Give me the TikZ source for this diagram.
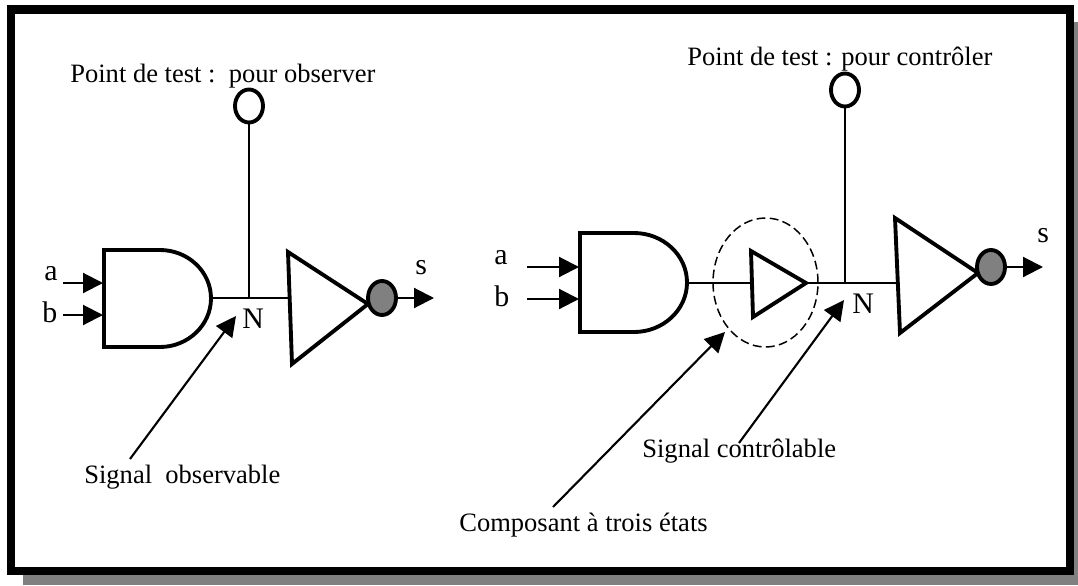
\documentclass[tikz,border=0pt]{standalone}
\usepackage{fontspec}
\setmainfont{Liberation Serif}
\usetikzlibrary{arrows.meta,shapes.geometric}
\tikzset{
	label text/.style={inner sep=0, anchor=base west, font=\fontsize{15.1}{18}\selectfont},
	letter text/.style={inner sep=0, anchor=base west, font=\fontsize{17}{20}\selectfont},
	gate/.style={line width=2.2pt, line join=miter},
	wire/.style={line width=1.25pt},
	pointer/.style={line width=1.2pt, -{Triangle[length=0.4cm, width=0.4cm]}},
	testpoint/.style={ellipse, draw, line width=2.2pt, fill=white, inner sep=0, minimum width=0.56cm, minimum height=0.66cm},
	bubble/.style={ellipse, draw, line width=2.2pt, fill={rgb:white,1;black,1}, inner sep=0, minimum width=0.56cm, minimum height=0.68cm},
	andbox/.style={inner sep=0, minimum height=1.94cm}
}
\begin{document}
\begin{tikzpicture}[x=0.02cm, y=-0.02cm]
	\useasboundingbox (0,0) rectangle (1078,585);
	% Cadre
	\fill[fill={rgb:white,1;black,1}] (23,22) rectangle (1078,585);
	\fill[black] (7,5) rectangle (1074,575);
	\fill[white] (15,14) rectangle (1066,567);

	% Montage de gauche
	\node[andbox, minimum width=2.14cm] (andL) at (157.5,298) {};
	\draw[gate] (104,250) -- (160,250) .. controls (188,250) and (211,271.5) .. (211,298.5)
		.. controls (211,325) and (188,347) .. (160,347) -- (104,347) -- cycle;
	\coordinate (notLw) at (288,298);
	\draw[gate] (288,252) -- (368,304) -- (292,364) -- cycle;
	\node[bubble] (bubbleL) at (382,298) {};
	\node[testpoint] (testL) at (249,106) {};
	\coordinate (nodeL) at (249,298);
	\coordinate (aL) at (63,283);
	\coordinate (aLin) at (103,283);
	\coordinate (bL) at (63,315);
	\coordinate (bLin) at (103,315);
	\coordinate (sL) at (434,298);
	\draw[pointer] (aL) -- (aLin);
	\draw[pointer] (bL) -- (bLin);
	\draw[wire] (andL.east) -- (notLw);
	\draw[wire] (testL) -- (nodeL);
	\draw[pointer] (bubbleL) -- (sL);
	\node[letter text] (labelaL) at (44,280) {a};
	\node[letter text] (labelbL) at (42,322) {b};
	\node[letter text] (labelNL) at (242,328) {N};
	\node[letter text] (labelsL) at (415,274) {s};
	\node[label text] (titleL) at (70,82) {Point de test :\ \ pour observer};
	\node[label text] (signalL) at (84,483) {Signal\ \ observable};
	\coordinate (signalLfrom) at (130,459);
	\coordinate (signalLto) at (236,316);
	\draw[pointer] (signalLfrom) -- (signalLto);

	% Montage de droite
	\node[andbox, minimum width=2.14cm, minimum height=1.98cm] (andR) at (633.5,283) {};
	\draw[gate] (580,233) -- (634,233) .. controls (663,233) and (687,255) .. (687,282.5)
		.. controls (687,310) and (663,332) .. (634,332) -- (580,332) -- cycle;
	\coordinate (triw) at (751,283);
	\coordinate (trie) at (806,283);
	\draw[gate] (751,251) -- (806,283) -- (753,317) -- cycle;
	\coordinate (notRw) at (896,283);
	\draw[gate] (895,218) -- (978,273) -- (900,333) -- cycle;
	\node[bubble] (bubbleR) at (991,267) {};
	\node[testpoint] (testR) at (845,90) {};
	\coordinate (nodeR) at (845,283);
	\node[ellipse, draw, line width=0.85pt, dash pattern=on 5pt off 2.5pt, inner sep=0, minimum width=2.1cm, minimum height=2.58cm] (tristate) at (765.5,282.5) {};
	\coordinate (aR) at (527,267);
	\coordinate (aRin) at (579,267);
	\coordinate (bR) at (527,299);
	\coordinate (bRin) at (579,299);
	\coordinate (sR) at (1043,267);
	\draw[pointer] (aR) -- (aRin);
	\draw[pointer] (bR) -- (bRin);
	\draw[wire] (andR.east) -- (triw);
	\draw[wire] (trie) -- (notRw);
	\draw[wire] (testR) -- (nodeR);
	\draw[pointer] (bubbleR) -- (sR);
	\node[letter text] (labelaR) at (494,264) {a};
	\node[letter text] (labelbR) at (494,306) {b};
	\node[letter text] (labelNR) at (852,313) {N};
	\node[letter text] (labelsR) at (1037,242) {s};
	\node[label text] (titleR) at (687,65) {Point de test : pour contrôler};
	\node[label text] (signalR) at (642,457) {Signal contrôlable};
	\node[label text] (compo) at (459,531) {Composant à trois états};
	\coordinate (signalRfrom) at (739,443);
	\coordinate (signalRto) at (844,300);
	\coordinate (compofrom) at (553,507);
	\coordinate (compoto) at (725,332);
	\draw[pointer] (signalRfrom) -- (signalRto);
	\draw[pointer] (compofrom) -- (compoto);
\end{tikzpicture}
\end{document}
